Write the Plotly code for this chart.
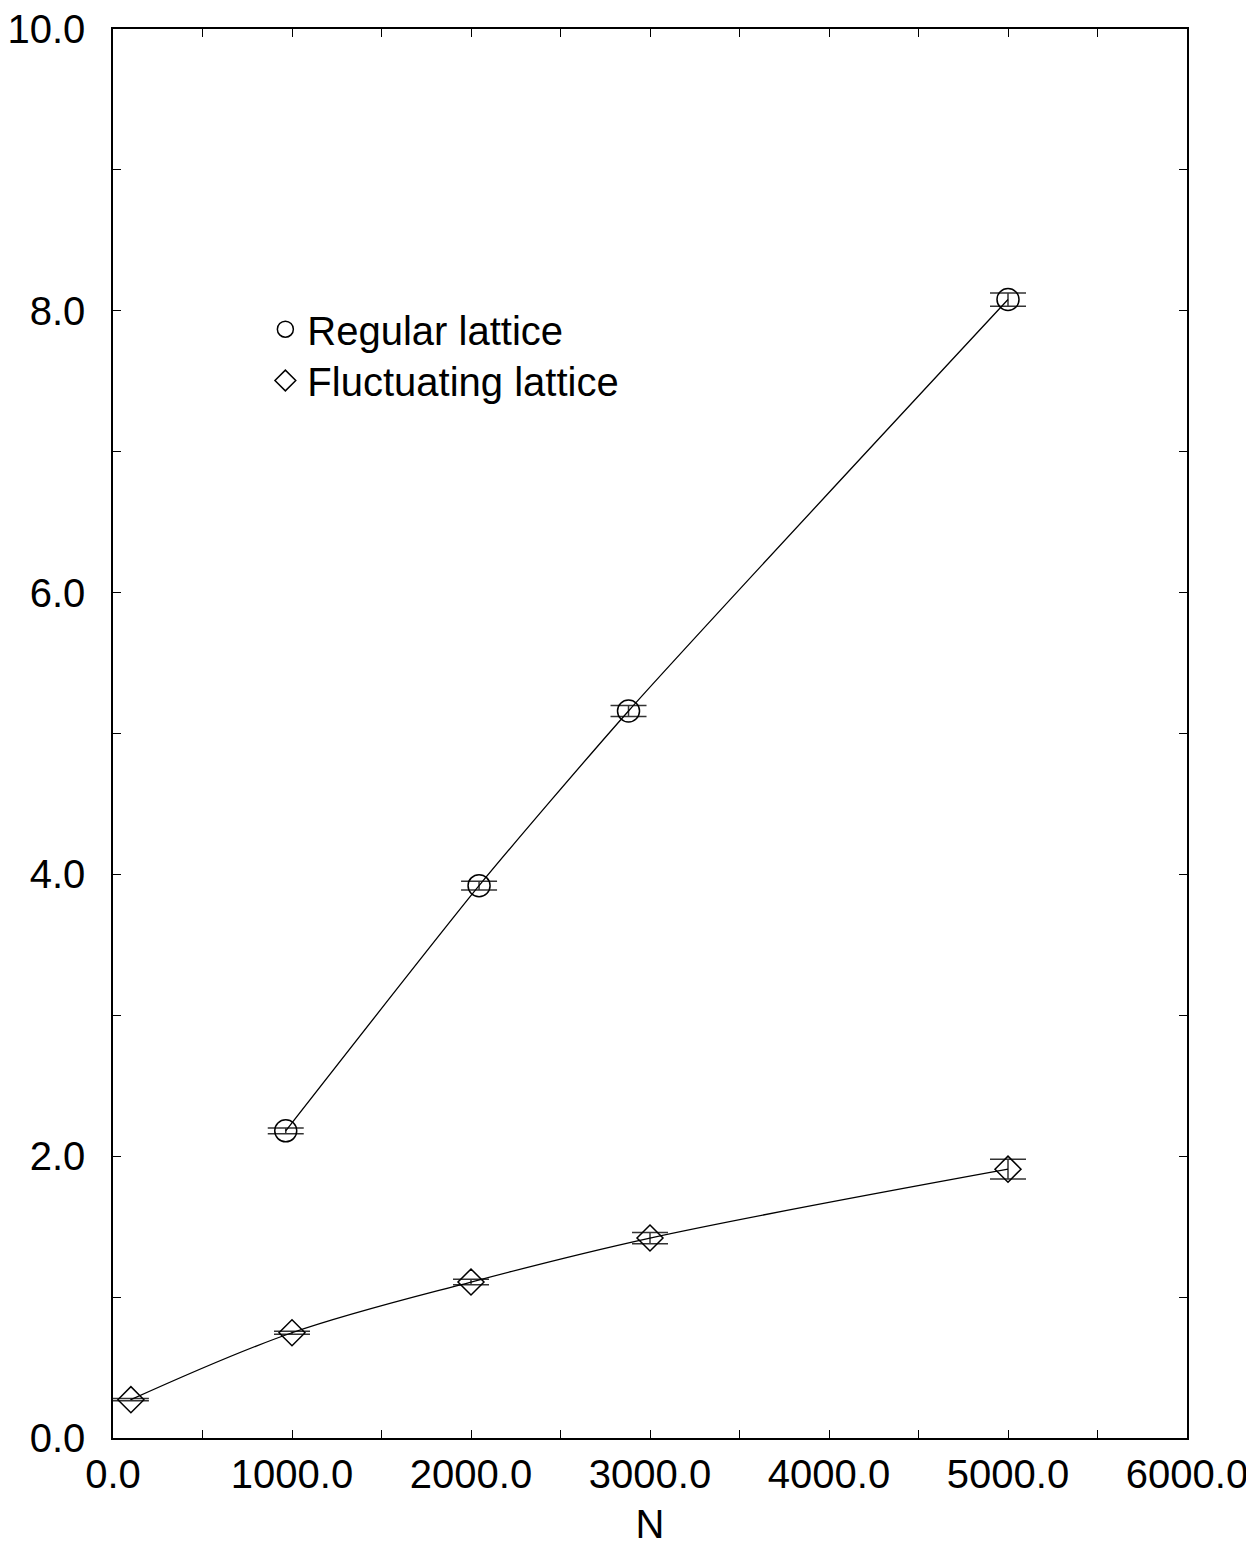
import plotly.graph_objects as go

# Regular lattice
reg_n = [965, 2045, 2880, 5000]
reg_y = [2.18, 3.92, 5.16, 8.08]
reg_err = [0.021, 0.031, 0.039, 0.047]

# Fluctuating lattice
flu_n = [100, 1000, 2000, 3000, 5000]
flu_y = [0.272, 0.747, 1.107, 1.419, 1.908]
flu_err = [0.008, 0.010, 0.019, 0.040, 0.070]

x_ticks = [0, 1000, 2000, 3000, 4000, 5000, 6000]
x_labels = ["0.0", "1000.0", "2000.0", "3000.0", "4000.0", "5000.0", "6000.0"]
y_ticks = [0, 2, 4, 6, 8, 10]
y_labels = ["0.0", "2.0", "4.0", "6.0", "8.0", "10.0"]

FONT = "Liberation Sans, Arial, sans-serif"
FS = 40

fig = go.Figure()

fig.add_trace(go.Scatter(
    x=reg_n, y=reg_y, mode="lines+markers", showlegend=False,
    line=dict(color="black", width=1.3, shape="spline", smoothing=0.6),
    marker=dict(symbol="circle-open", size=22, color="black", line=dict(width=1.5, color="black")),
    error_y=dict(type="data", array=reg_err, visible=True, color="#333", thickness=1.5, width=18),
))
fig.add_trace(go.Scatter(
    x=flu_n, y=flu_y, mode="lines+markers", showlegend=False,
    line=dict(color="black", width=1.3, shape="spline", smoothing=1.0),
    marker=dict(symbol="diamond-open", size=20, color="black", line=dict(width=1.5, color="black")),
    error_y=dict(type="data", array=flu_err, visible=True, color="#333", thickness=1.5, width=18),
))

# legend-only entries
fig.add_trace(go.Scatter(
    x=[None], y=[None], mode="markers", name="Regular lattice", legend="legend",
    marker=dict(symbol="circle-open", size=22, color="black", line=dict(width=1.5, color="black")),
))
fig.add_trace(go.Scatter(
    x=[None], y=[None], mode="markers", name="Fluctuating lattice", legend="legend2",
    marker=dict(symbol="diamond-open", size=20, color="black", line=dict(width=1.5, color="black")),
))

axis_common = dict(
    showgrid=False, zeroline=False, showline=True, linecolor="black", linewidth=1.5,
    mirror="allticks", ticks="inside", ticklen=8, tickwidth=1, tickcolor="black",
    tickfont=dict(family=FONT, size=FS, color="black"),
    ticklabeloverflow="allow", automargin=False,
)

fig.update_xaxes(
    range=[0, 6000], tickmode="array", tickvals=x_ticks, ticktext=x_labels,
    minor=dict(dtick=500, ticklen=8, ticks="inside", tickcolor="black", tickwidth=1),
    title=dict(text="N", font=dict(family=FONT, size=FS, color="black"), standoff=15),
    **axis_common,
)
fig.update_yaxes(
    range=[0, 10], tickmode="array", tickvals=y_ticks, ticktext=y_labels,
    minor=dict(dtick=1, ticklen=8, ticks="inside", tickcolor="black", tickwidth=1),
    ticklabelstandoff=18,
    **axis_common,
)

legend_common = dict(
    xanchor="left", yanchor="top",
    bgcolor="rgba(0,0,0,0)", borderwidth=0,
    font=dict(family=FONT, size=FS, color="black"),
    itemwidth=34, itemsizing="trace",
)

fig.update_layout(
    width=1254, height=1545,
    margin=dict(l=105, r=75, t=21, b=115),
    plot_bgcolor="white", paper_bgcolor="white",
    font=dict(family=FONT, size=FS, color="black"),
    legend=dict(x=0.14, y=0.81, **legend_common),
    legend2=dict(x=0.14, y=0.7736, **legend_common),
)

fig.write_html("out.html")
